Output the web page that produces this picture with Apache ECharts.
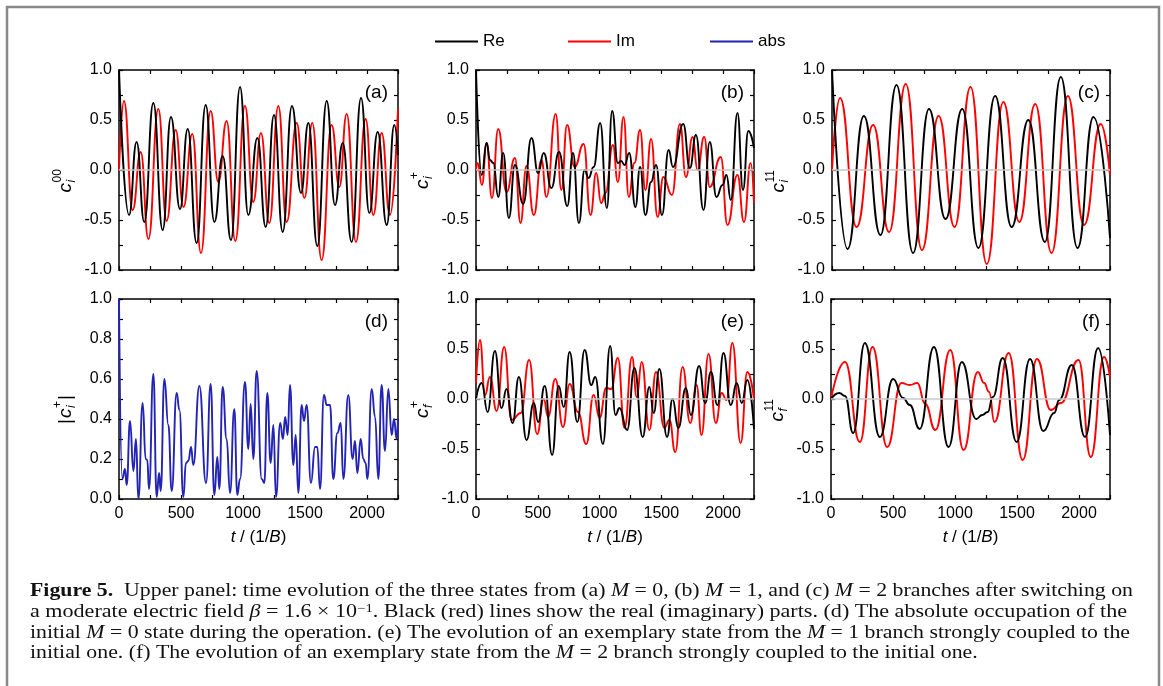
<!DOCTYPE html>
<html><head><meta charset="utf-8">
<script src="https://cdn.jsdelivr.net/npm/echarts@6/dist/echarts.min.js"></script>
<style>html,body{margin:0;padding:0;background:#fff}#c{width:1163px;height:686px}</style>
</head><body><div id="c"></div>
<script>
// ---------------- DATA (t in 1/B) ----------------
const aReT = [0,81,142,204,277,352,419,492,554,626,699,769,836,903,976,1043,1116,1183,1250,1320,1395,1468,1527,1599,1675,1742,1804,1876,1952,2019,2086,2159,2220,2250];
const aReV = [1.0,-0.45,0.28,-0.52,0.67,-0.60,0.53,-0.39,0.41,-0.73,0.65,-0.52,0.14,-0.70,0.83,-0.45,0.32,-0.57,0.55,-0.62,0.64,-0.23,0.47,-0.76,0.69,-0.35,0.27,-0.72,0.72,-0.43,0.38,-0.55,0.45,0.15];
const aImT = [0,40,110,175,237,317,384,457,520,591,661,739,801,868,938,1016,1083,1145,1212,1285,1352,1433,1495,1559,1634,1715,1777,1836,1911,1989,2051,2118,2185,2250];
const aImV = [0,0.69,-0.40,0.18,-0.69,0.61,-0.51,0.40,-0.37,0.36,-0.83,0.59,-0.12,0.49,-0.71,0.64,-0.32,0.37,-0.53,0.64,-0.52,0.47,-0.28,0.47,-0.90,0.45,-0.17,0.56,-0.72,0.51,-0.45,0.37,-0.45,0.61];

const bReT = [0,46,86,113,140,180,220,266,315,382,449,503,548,610,672,739,785,833,879,911,952,1005,1059,1102,1148,1175,1202,1240,1290,1328,1371,1417,1457,1505,1559,1594,1677,1731,1780,1841,1892,1946,1995,2027,2062,2116,2161,2204,2250];
const bReV = [1.0,-0.05,0.27,0.10,0.07,-0.27,0.17,-0.48,0.05,-0.34,0.32,-0.03,0.17,-0.18,0.18,-0.36,0.17,-0.53,0.0,-0.08,0.03,0.47,-0.38,0.59,0.07,0.09,0.05,0.17,-0.37,0.03,-0.45,-0.12,0.05,-0.45,0.20,0.03,0.46,0.02,0.35,-0.40,0.28,-0.27,-0.15,-0.05,-0.30,0.57,-0.20,0.39,0.22];
const bImT = [0,13,48,86,129,180,247,315,360,409,468,530,570,645,691,737,798,871,927,973,1013,1048,1108,1148,1194,1237,1282,1328,1371,1417,1470,1516,1586,1651,1699,1753,1793,1847,1892,1981,2035,2116,2169,2223,2250];
const bImV = [0,0.07,-0.15,0.27,-0.28,0.41,-0.22,0.12,-0.53,0.04,-0.45,0.10,-0.27,0.56,-0.20,0.45,0.03,0.26,-0.45,-0.03,-0.33,-0.23,0.25,-0.12,0.53,-0.27,0.07,0.40,-0.20,0.31,-0.47,-0.07,-0.25,0.46,-0.07,0.33,0.0,0.33,-0.17,0.13,-0.55,-0.05,-0.52,0.07,-0.33];

const cReT = [0,126,258,392,522,656,785,919,1054,1185,1320,1454,1589,1723,1852,1987,2116,2250];
const cReV = [1.0,-0.79,0.54,-0.65,0.85,-0.83,0.61,-0.49,0.61,-0.78,0.74,-0.57,0.50,-0.72,0.93,-0.78,0.53,-0.68];
const cImT = [0,65,199,333,462,597,728,863,992,1121,1253,1387,1516,1645,1777,1909,2040,2175,2250];
const cImV = [0,0.72,-0.57,0.45,-0.62,0.86,-0.80,0.54,-0.57,0.83,-0.94,0.68,-0.52,0.66,-0.83,0.74,-0.55,0.46,-0.05];

const dAbsT = [0,27,48,62,89,116,137,156,191,215,228,242,277,304,323,336,366,398,425,465,487,519,540,559,581,599,648,702,739,769,793,809,836,868,895,930,954,976,1016,1043,1062,1083,1110,1151,1172,1196,1223,1245,1266,1300,1322,1340,1360,1379,1406,1425,1446,1473,1492,1513,1548,1581,1599,1621,1653,1675,1702,1728,1761,1788,1809,1849,1884,1903,1922,1949,1970,1989,2003,2038,2065,2091,2118,2145,2172,2199,2218,2239,2250];
const dAbsV = [1.0,0.10,0.15,0.07,0.39,0.14,0.30,0.0,0.48,0.20,0.195,0.05,0.625,0.01,0.13,0.04,0.60,0.37,0.04,0.53,0.445,0.01,0.18,0.19,0.26,0.17,0.565,0.08,0.575,0.02,0.21,0.05,0.56,0.30,0.03,0.45,0.02,0.10,0.585,0.25,0.475,0.20,0.64,0.10,0.08,0.53,0.18,0.37,0.01,0.38,0.30,0.41,0.32,0.57,0.17,0.32,0.03,0.47,0.39,0.47,0.08,0.26,0.26,0.05,0.52,0.47,0.47,0.10,0.33,0.38,0.10,0.52,0.20,0.29,0.13,0.30,0.20,0.18,0.10,0.55,0.41,0.10,0.57,0.24,0.55,0.32,0.40,0.30,0.40];

const eReT = [0,46,94,153,207,247,296,347,409,468,503,556,616,669,710,758,820,879,933,965,1027,1086,1129,1161,1223,1282,1349,1403,1438,1484,1546,1591,1637,1699,1739,1806,1855,1901,1954,2003,2062,2110,2151,2196,2250];
const eReV = [0,0.16,-0.13,0.48,-0.09,0.10,-0.24,0.22,-0.41,-0.04,-0.23,0.13,-0.56,0.13,-0.08,0.47,-0.23,0.49,0.14,0.22,-0.45,0.53,-0.16,-0.09,-0.31,0.31,-0.38,0.12,-0.14,0.30,-0.38,0.0,-0.29,0.11,-0.16,0.33,-0.04,0.27,-0.06,0.46,-0.06,0.16,-0.04,0.19,-0.30];
const eImT = [0,32,73,113,167,228,288,363,430,495,548,583,642,704,758,825,892,952,1000,1054,1094,1148,1202,1263,1301,1341,1403,1457,1524,1565,1613,1672,1734,1785,1825,1882,1941,1989,2027,2075,2142,2196,2250];
const eImV = [0.16,0.59,0.04,0.22,-0.12,0.52,-0.21,-0.14,0.39,-0.35,0.0,-0.18,0.20,-0.28,0.15,-0.13,-0.45,0.04,-0.19,0.11,0.10,0.41,-0.29,0.42,0.02,0.37,-0.31,0.27,-0.29,-0.21,-0.53,0.32,-0.24,0.14,-0.36,0.45,-0.24,0.06,-0.01,0.56,-0.44,0.27,0.0];

const fReT = [0,67,113,179,273,394,501,581,635,715,830,948,1055,1171,1219,1264,1305,1385,1497,1605,1712,1800,1840,1942,2049,2154,2250];
const fReV = [0,0.06,0.03,-0.34,0.56,-0.38,0.20,0.01,-0.06,-0.30,0.52,-0.48,0.37,-0.20,-0.16,-0.13,0.02,0.41,-0.43,0.40,-0.32,-0.14,-0.01,0.34,-0.38,0.51,-0.36];
const fImT = [0,113,233,335,453,568,635,696,760,841,962,1069,1184,1235,1275,1318,1433,1546,1661,1773,1854,1996,2095,2202,2250];
const fImV = [0,0.37,-0.43,0.52,-0.48,0.16,0.14,0.16,-0.05,-0.31,0.49,-0.51,0.27,0.16,0.07,-0.23,0.46,-0.61,0.40,-0.11,-0.04,0.39,-0.58,0.42,0.22];

const xTicks = {min:0, max:2250, step:250, labelStep:500};
const legendNames = ['Re','Im','abs'];
const panelTags = ['(a)','(b)','(c)','(d)','(e)','(f)'];
const captionLines = [
  [['Figure 5.','b'],['  Upper panel: time evolution of the three states from (a) ','n'],['M','i'],[' = 0, (b) ','n'],['M','i'],[' = 1, and (c) ','n'],['M','i'],[' = 2 branches after switching on','n']],
  [['a moderate electric field ','n'],['β','i'],[' = 1.6 × 10','n'],['−1','sup'],['. Black (red) lines show the real (imaginary) parts. (d) The absolute occupation of the','n']],
  [['initial ','n'],['M','i'],[' = 0 state during the operation. (e) The evolution of an exemplary state from the ','n'],['M','i'],[' = 1 branch strongly coupled to the','n']],
  [['initial one. (f) The evolution of an exemplary state from the ','n'],['M','i'],[' = 2 branch strongly coupled to the initial one.','n']]
];

// ---------------- LAYOUT / STYLE ----------------
const FONT = '"Liberation Sans", Arial, sans-serif';
const SERIF = '"Liberation Serif", "DejaVu Serif", serif';
const COL = {Re:'#000000', Im:'#ff0000', abs:'#2323b4'};
const pair = (t,v) => t.map((x,i)=>[x, v[i]]);

const panels = [
  {left:119, top:70,  w:279, h:200, y:[-1,1,0.25,0.5], xl:false, ser:[['Im',aImT,aImV],['Re',aReT,aReV]], sup:'00', sub:'i'},
  {left:476, top:70,  w:278, h:200, y:[-1,1,0.25,0.5], xl:false, ser:[['Im',bImT,bImV],['Re',bReT,bReV]], sup:'+', sub:'i'},
  {left:832, top:70,  w:278, h:200, y:[-1,1,0.25,0.5], xl:false, ser:[['Im',cImT,cImV],['Re',cReT,cReV]], sup:'11', sub:'i'},
  {left:119, top:299, w:279, h:200, y:[0,1,0.1,0.2],   xl:true,  ser:[['abs',dAbsT,dAbsV]], sup:'+', sub:'i', pipes:true},
  {left:476, top:299, w:278, h:200, y:[-1,1,0.25,0.5], xl:true,  ser:[['Im',eImT,eImV],['Re',eReT,eReV]], sup:'+', sub:'f'},
  {left:831, top:299, w:279, h:200, y:[-1,1,0.25,0.5], xl:true,  ser:[['Im',fImT,fImV],['Re',fReT,fReV]], sup:'11', sub:'f'}
];

const isMult = (v, m) => Math.abs(v/m - Math.round(v/m)) < 1e-6;
const grid=[], xAxis=[], yAxis=[], series=[], graphic=[];
const axisLine = {onZero:false, lineStyle:{color:'#000', width:1.5}};
const axisTick = {inside:true, length:4, lineStyle:{color:'#000', width:1.2}};

panels.forEach((p,i)=>{
  grid.push({left:p.left, top:p.top, width:p.w, height:p.h});
  const xb = {gridIndex:i, type:'value', min:xTicks.min, max:xTicks.max, interval:xTicks.step, position:'bottom',
    axisLine, axisTick, splitLine:{show:false},
    axisLabel:{show:p.xl, color:'#000', fontSize:16, fontFamily:FONT, margin:7,
      formatter:v=> (isMult(v, xTicks.labelStep) && v < xTicks.max) ? String(v) : ''}};
  if (p.xl) Object.assign(xb, {name:'{i|t} / (1/{i|B})', nameLocation:'middle', nameGap:30,
      nameTextStyle:{fontSize:17, fontFamily:FONT, color:'#000', rich:{i:{fontStyle:'italic', fontSize:17, fontFamily:FONT, color:'#000'}}}});
  xAxis.push(xb);
  xAxis.push({gridIndex:i, type:'value', min:xTicks.min, max:xTicks.max, interval:xTicks.step, position:'top',
    axisLine, axisTick, splitLine:{show:false}, axisLabel:{show:false}});
  const [ymin,ymax,yint,ylab] = p.y;
  yAxis.push({gridIndex:i, type:'value', min:ymin, max:ymax, interval:yint, position:'left',
    axisLine, axisTick, splitLine:{show:false},
    axisLabel:{color:'#000', fontSize:16, fontFamily:FONT, margin:7,
      formatter:v=> isMult(v, ylab) ? v.toFixed(1) : ''}});
  yAxis.push({gridIndex:i, type:'value', min:ymin, max:ymax, interval:yint, position:'right',
    axisLine, axisTick, splitLine:{show:false}, axisLabel:{show:false}});
  if (ymin < 0) {
    series.push({type:'line', xAxisIndex:2*i, yAxisIndex:2*i, data:[], z:1, silent:true,
      markLine:{silent:true, symbol:'none', animation:false, label:{show:false},
        lineStyle:{color:'#c8c8c8', width:1.5, type:'solid'}, data:[{yAxis:0}]}});
  }
  p.ser.forEach(([name,t,v])=>{
    series.push({name, type:'line', xAxisIndex:2*i, yAxisIndex:2*i, data:pair(t,v),
      smooth:0.5, smoothMonotone:'x', symbol:'none', showSymbol:false, color:COL[name],
      lineStyle:{color:COL[name], width:1.9}, z:3, clip:true});
  });
  // panel tag
  graphic.push({type:'text', x:p.left+p.w-10, y:p.top+23, silent:true,
    style:{text:panelTags[i], font:'19px '+FONT, fill:'#000', align:'right', textAlign:'right', verticalAlign:'middle', textVerticalAlign:'middle'}});
  // y axis title, rotated
  const cy = p.top + p.h/2;
  const scrW = Math.max(p.sup.length, p.sub.length) * 7 + 1;
  const pipeW = p.pipes ? 6 : 0;
  const cW = 10;
  const len = pipeW + cW + scrW + pipeW;
  const kids = [];
  const mk = (txt, x, y, font) => ({type:'text', x, y, silent:true,
    style:{text:txt, font, fill:'#000', align:'left', textAlign:'left', verticalAlign:'middle', textVerticalAlign:'middle'}});
  if (p.pipes) kids.push(mk('|', 0, 0, '19px '+FONT));
  kids.push(mk('c', pipeW, 0, 'italic 19px '+FONT));
  kids.push(mk(p.sup, pipeW+cW, -8, '12px '+FONT));
  kids.push(mk(p.sub, pipeW+cW, 6, 'italic 12px '+FONT));
  if (p.pipes) kids.push(mk('|', pipeW+cW+scrW, 0, '19px '+FONT));
  graphic.push({type:'group', x:p.left-53, y:cy+10+len/2, rotation:Math.PI/2, children:kids});
});

// frame
graphic.push({type:'rect', silent:true, z:-1, shape:{x:7, y:7, width:1152, height:700},
  style:{fill:'none', stroke:'#888', lineWidth:2.5}});

// caption
const CS = 18;
const capFont = {n:CS+'px '+SERIF, b:'bold '+CS+'px '+SERIF, i:'italic '+CS+'px '+SERIF, sup:'12px '+SERIF};
const ctx = document.createElement('canvas').getContext('2d');
const capX = 30, capY = [591, 612, 633, 653], capEnd = [1133, 1127, 1130, null];
let lastScale = 1;
captionLines.forEach((segs, k)=>{
  let str='', w=0;
  segs.forEach(([t,s])=>{ ctx.font = capFont[s]; w += ctx.measureText(t).width; str += s==='n' ? t : '{'+s+'|'+t+'}'; });
  const sc = capEnd[k] ? (capEnd[k]-capX)/w : lastScale;
  lastScale = sc;
  graphic.push({type:'text', x:capX, y:capY[k], scaleX:sc, scaleY:1, originX:0, originY:0, silent:true,
    style:{text:str, font:capFont.n, fill:'#111', align:'left', textAlign:'left', verticalAlign:'middle', textVerticalAlign:'middle',
      rich:{b:{font:capFont.b, fill:'#111'}, i:{font:capFont.i, fill:'#111'}, sup:{font:capFont.sup, fill:'#111', verticalAlign:'top'}}}});
});

const legend = [[legendNames[0],435],[legendNames[1],568],[legendNames[2],710]].map(([n,l])=>({
  data:[{name:n}], left:l, top:33, padding:0, icon:'rect', itemWidth:43, itemHeight:2, selectedMode:false,
  textStyle:{fontSize:17, color:'#000', fontFamily:FONT}}));

const chart = echarts.init(document.getElementById('c'), null, {renderer:'canvas'});
chart.setOption({animation:false, backgroundColor:'#fff', grid, xAxis, yAxis, series, legend, graphic});
</script></body></html>
